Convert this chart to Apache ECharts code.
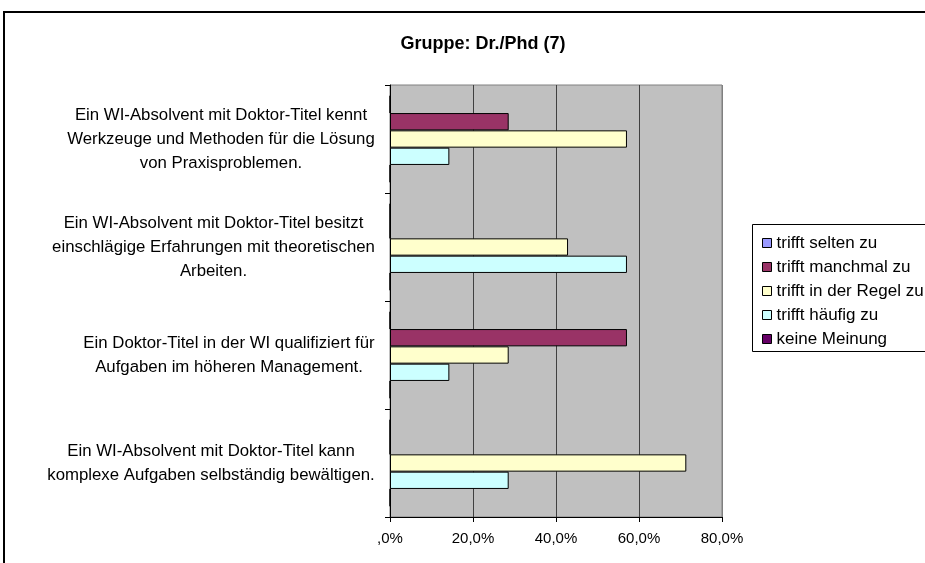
<!DOCTYPE html>
<html>
<head>
<meta charset="utf-8">
<script src="https://cdn.jsdelivr.net/npm/echarts@6/dist/echarts.min.js"></script>
<style>
  html, body { margin: 0; padding: 0; background: #fff; }
  #chart { width: 925px; height: 563px; }
</style>
</head>
<body>
<div id="chart"></div>
<script>
const categories = [
  'Ein WI-Absolvent mit Doktor-Titel kennt\nWerkzeuge und Methoden für die Lösung\nvon Praxisproblemen.',
  'Ein WI-Absolvent mit Doktor-Titel besitzt\neinschlägige Erfahrungen mit theoretischen\nArbeiten.',
  'Ein Doktor-Titel in der WI qualifiziert für\nAufgaben im höheren Management.',
  'Ein WI-Absolvent mit Doktor-Titel kann\nkomplexe Aufgaben selbständig bewältigen.'
]
const seriesNames = ['trifft selten zu', 'trifft manchmal zu', 'trifft in der Regel zu', 'trifft häufig zu', 'keine Meinung']
const seriesColors = ['#9999FF', '#993366', '#FFFFCC', '#CCFFFF', '#660066']
// percent per category (top to bottom)
const selten = [0, 0, 0, 0]
const manchmal = [28.6, 0, 57.1, 0]
const inDerRegel = [57.1, 42.9, 28.6, 71.4]
const haeufig = [14.3, 57.1, 14.3, 28.6]
const keineMeinung = [0, 0, 0, 0]
const xTickLabels = [',0%', '20,0%', '40,0%', '60,0%', '80,0%']

const seriesValues = [selten, manchmal, inDerRegel, haeufig, keineMeinung]

const FONT = '"Liberation Sans", Arial, sans-serif'
const LABEL_SIZE = 16.8

// each label block: lines centered inside, block right-aligned to the axis
const ctx = document.createElement('canvas').getContext('2d')
ctx.font = LABEL_SIZE + 'px ' + FONT
const rich = {}
categories.forEach((c, i) => {
  const w = Math.max(...c.split('\n').map((l) => ctx.measureText(l).width))
  rich['c' + i] = {
    width: Math.ceil(w) + 2,
    align: 'center',
    fontSize: LABEL_SIZE,
    fontFamily: FONT,
    lineHeight: 24,
    color: '#000',
  }
})

const chart = echarts.init(document.getElementById('chart'), null, { renderer: 'canvas' })

chart.setOption({
  animation: false,
  title: {
    text: 'Gruppe: Dr./Phd (7)',
    left: 478,
    top: 30,
    textAlign: 'center',
    textStyle: { fontFamily: FONT, fontSize: 18, fontWeight: 'bold', color: '#000' },
  },
  graphic: [
    {
      type: 'rect',
      z: -10,
      shape: { x: 4, y: 12, width: 960, height: 600 },
      style: { fill: 'none', stroke: '#000', lineWidth: 2 },
    },
    {
      type: 'rect',
      z: -5,
      shape: { x: 752.5, y: 224.5, width: 200, height: 127 },
      style: { fill: '#fff', stroke: '#000', lineWidth: 1 },
    },
  ],
  legend: {
    orient: 'vertical',
    left: 757,
    top: 228,
    itemWidth: 9,
    itemHeight: 9,
    itemGap: 4,
    icon: 'rect',
    itemStyle: { borderColor: '#000', borderWidth: 1 },
    textStyle: { fontFamily: FONT, fontSize: 17, color: '#000', lineHeight: 20 },
    data: seriesNames,
  },
  grid: {
    left: 390,
    top: 85,
    width: 332,
    height: 432,
    show: true,
    backgroundColor: '#C0C0C0',
    borderColor: '#808080',
    borderWidth: 1,
  },
  xAxis: {
    type: 'value',
    min: 0,
    max: 80,
    interval: 20,
    axisLine: { show: true, lineStyle: { color: '#000', width: 1 } },
    axisTick: { show: true, length: 5, lineStyle: { color: '#000' } },
    axisLabel: {
      margin: 14,
      fontFamily: FONT,
      fontSize: 15,
      color: '#000',
      formatter: (v) => xTickLabels[Math.round(v / 20)],
    },
    splitLine: {
      show: true,
      lineStyle: { color: ['#404040', '#404040', '#404040', '#404040', '#808080'], width: 1 },
    },
  },
  yAxis: {
    type: 'category',
    inverse: true,
    data: categories,
    axisLine: { show: true, lineStyle: { color: '#000', width: 1 } },
    axisTick: { show: true, length: 5, lineStyle: { color: '#000' } },
    axisLabel: {
      margin: 14,
      align: 'right',
      formatter: (v, idx) => '{c' + idx + '|' + v + '}',
      rich: rich,
    },
    splitLine: { show: false },
  },
  series: seriesNames.map((name, i) => ({
    name: name,
    type: 'bar',
    data: seriesValues[i],
    barWidth: 17.3,
    barGap: '0%',
    itemStyle: { color: seriesColors[i], borderColor: '#000', borderWidth: 1 },
  })),
})
</script>
</body>
</html>
